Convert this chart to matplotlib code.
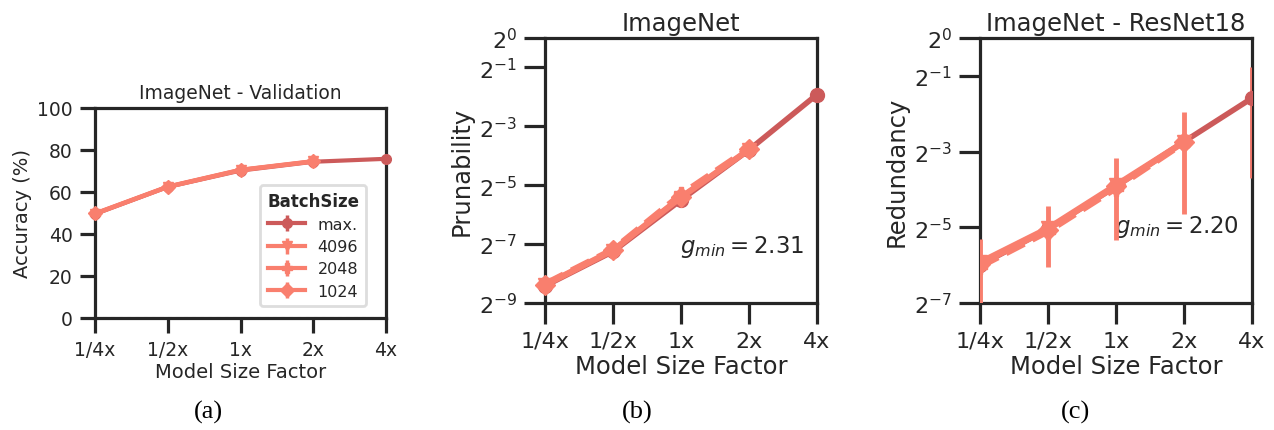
import matplotlib
matplotlib.use("Agg")
import matplotlib.pyplot as plt
import numpy as np

plt.rcParams['font.family'] = ['DejaVu Sans']
plt.rcParams['mathtext.fontset'] = 'dejavusans'
plt.rcParams['text.color'] = '#262626'
plt.rcParams['axes.labelcolor'] = '#262626'
plt.rcParams['xtick.color'] = '#262626'
plt.rcParams['ytick.color'] = '#262626'
plt.rcParams['axes.edgecolor'] = '#262626'

# data
sizes = ['1/4x', '1/2x', '1x', '2x', '4x']
batch_labels = ['max.', '4096', '2048', '1024']

# (a) validation accuracy in %
acc_max = [49.5, 62.4, 70.2, 74.4, 75.8]
acc_4096 = [49.7, 62.5, 70.5, 74.6]
acc_2048 = [49.6, 62.4, 70.4, 74.5]
acc_1024 = [49.8, 62.6, 70.6, 74.7]

# (b) prunability, log2 values
prun_max = [-8.42, -7.25, -5.50, -3.80, -1.92]
prun_4096 = [-8.40, -7.22, -5.42, -3.80]
prun_2048 = [-8.34, -7.17, -5.30, -3.74]
prun_1024 = [-8.38, -7.20, -5.40, -3.78]

# (c) redundancy, log2 values, with error bar limits
red_max = [-6.00, -5.05, -3.92, -2.74, -1.59]
red_max_lo = [-6.00, -5.05, -3.92, -2.74, -3.70]
red_max_hi = [-6.00, -5.05, -3.92, -2.74, -0.77]
red_4096 = [-5.92, -5.02, -3.88, -2.74]
red_4096_lo = [-7.40, -6.05, -5.33, -4.65]
red_4096_hi = [-5.31, -4.44, -3.17, -1.96]
red_2048 = [-6.05, -5.12, -3.98, -2.78]
red_1024 = [-5.98, -5.06, -3.92, -2.76]

g_min_b = 2.31
g_min_c = 2.20

dark = '#cc5a5a'
salmon = '#f97f6e'
styles = {
    'max.': dict(color=dark, marker='o', ls='-'),
    '4096': dict(color=salmon, marker='v', ls='-'),
    '2048': dict(color=salmon, marker='P', ls='--'),
    '1024': dict(color=salmon, marker='D', ls='-'),
}

fig = plt.figure(figsize=(12.74, 4.31), dpi=100)
ax1 = fig.add_axes([0.0746, 0.2599, 0.2284, 0.4872])
ax2 = fig.add_axes([0.4278, 0.2947, 0.2135, 0.6149])
ax3 = fig.add_axes([0.7692, 0.2947, 0.2135, 0.6149])


def style_axes(ax, fs_tick, tlen):
    for s in ax.spines.values():
        s.set_linewidth(2.3)
    ax.tick_params(width=2.3, length=tlen, labelsize=fs_tick, pad=5)
    ax.set_xticks(range(len(sizes)))
    ax.set_xticklabels(sizes)
    ax.set_xlim(0, len(sizes) - 1)


# ---- (a)
xa = np.arange(len(sizes))
ax1.axhline(0, color='#999999', ls=':', lw=2.2, zorder=1)
series_a = [acc_max, acc_4096, acc_2048, acc_1024]
for lab, vals in zip(batch_labels, series_a):
    st = styles[lab]
    n = len(vals)
    ax1.errorbar(xa[:n], vals, yerr=np.zeros(n), color=st['color'], marker=st['marker'],
                 ls='-', lw=3, ms=7, elinewidth=2.5, label=lab, clip_on=False, zorder=3)
ax1.set_ylim(0, 100)
ax1.set_yticks([0, 20, 40, 60, 80, 100])
style_axes(ax1, 13.5, 11)
ax1.set_title('ImageNet - Validation', fontsize=13.5, pad=7)
ax1.set_xlabel('Model Size Factor', fontsize=14, labelpad=2)
ax1.set_ylabel('Accuracy (%)', fontsize=14, labelpad=4)
leg = ax1.legend(title='BatchSize', loc='lower right', bbox_to_anchor=(0.96, 0.02),
                 fontsize=11.5, title_fontproperties={'weight': 'bold', 'size': 12},
                 handlelength=2.3, borderpad=0.45, labelspacing=0.45, framealpha=1)
leg.get_frame().set_edgecolor('#dddddd')
leg.get_frame().set_linewidth(2)

# ---- (b)
series_b = [prun_max, prun_4096, prun_2048, prun_1024]
for lab, vals in zip(batch_labels, series_b):
    st = styles[lab]
    n = len(vals)
    ax2.plot(xa[:n], 2.0 ** np.array(vals), color=st['color'], marker=st['marker'],
             ls=st['ls'], lw=4, ms=10, clip_on=False, zorder=3 if lab == 'max.' else 4)
ax2.set_yscale('log', base=2)
ax2.set_ylim(2.0 ** -9, 2.0 ** 0)
ticks_b = [-9, -7, -5, -3, -1, 0]
ax2.set_yticks([2.0 ** e for e in ticks_b])
ax2.set_yticklabels([r'$2^{%d}$' % e for e in ticks_b])
ax2.minorticks_off()
style_axes(ax2, 16, 15)
ax2.set_title('ImageNet', fontsize=17.5, pad=6)
ax2.set_xlabel('Model Size Factor', fontsize=17.5, labelpad=2)
ax2.set_ylabel('Prunability', fontsize=17.5, labelpad=4)
ax2.text(1.98, 2.0 ** -7.07, r'$g_{min} = %.2f$' % g_min_b, fontsize=16.5,
         ha='left', va='center')

# ---- (c)
ax3.set_yscale('log', base=2)
mx = np.array(red_max)
ax3.errorbar(xa, 2.0 ** mx,
             yerr=[2.0 ** mx - 2.0 ** np.array(red_max_lo), 2.0 ** np.array(red_max_hi) - 2.0 ** mx],
             color=dark, ecolor='#ee7468', marker='o', ls='-', lw=4, ms=10, elinewidth=3.5,
             clip_on=True, zorder=3)
r4 = np.array(red_4096)
ax3.errorbar(xa[:4], 2.0 ** r4,
             yerr=[2.0 ** r4 - 2.0 ** np.array(red_4096_lo), 2.0 ** np.array(red_4096_hi) - 2.0 ** r4],
             color=salmon, marker='v', ls='-', lw=4, ms=10, elinewidth=3.5, zorder=4)
ax3.plot(xa[:4], 2.0 ** np.array(red_2048), color=salmon, marker='P', ls='--', lw=4, ms=10, zorder=4)
ax3.plot(xa[:4], 2.0 ** np.array(red_1024), color=salmon, marker='D', ls='-', lw=4, ms=10, zorder=4)
ax3.set_ylim(2.0 ** -7, 2.0 ** 0)
ticks_c = [-7, -5, -3, -1, 0]
ax3.set_yticks([2.0 ** e for e in ticks_c])
ax3.set_yticklabels([r'$2^{%d}$' % e for e in ticks_c])
ax3.minorticks_off()
style_axes(ax3, 16, 15)
ax3.set_title('ImageNet - ResNet18', fontsize=17.5, pad=6)
ax3.set_xlabel('Model Size Factor', fontsize=17.5, labelpad=2)
ax3.set_ylabel('Redundancy', fontsize=17.5, labelpad=4)
ax3.text(1.98, 2.0 ** -4.97, r'$g_{min} = %.2f$' % g_min_c, fontsize=16.5,
         ha='left', va='center')

# captions
for xc, cap in [(208, '(a)'), (637, '(b)'), (1075, '(c)')]:
    fig.text(xc / 1274, 1 - 412 / 431, cap, fontsize=19, family='Liberation Serif',
             ha='center', va='center', color='black')

fig.savefig('out.png', dpi=100)
